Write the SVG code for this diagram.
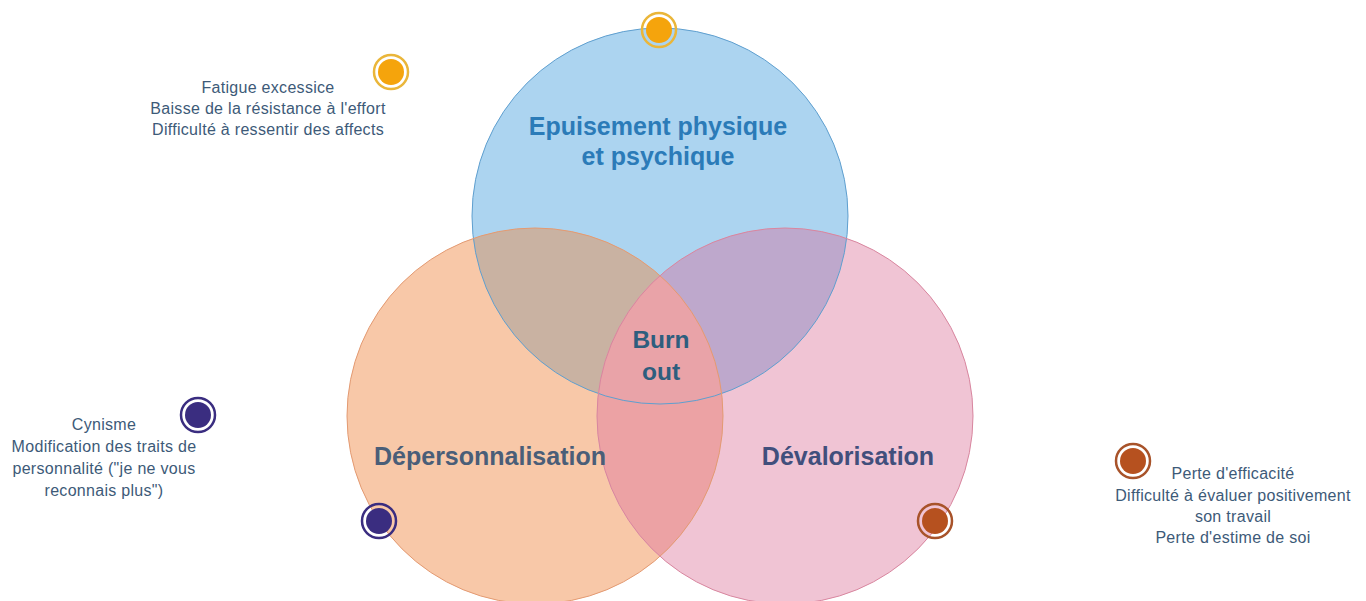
<svg xmlns="http://www.w3.org/2000/svg" width="1366" height="601" viewBox="0 0 1366 601">
<style>
.main{font-family:"Liberation Sans",Arial,sans-serif;font-weight:bold;font-size:25px;text-anchor:middle}
.note{font-family:"Liberation Sans",Arial,sans-serif;font-size:16px;letter-spacing:0.3px;fill:#3d5a78;text-anchor:middle}
.dotring{fill:none;stroke-width:2.5}
</style>
<defs>
<clipPath id="cA"><circle cx="660" cy="216" r="188"/></clipPath>
<clipPath id="cB"><circle cx="535" cy="416" r="188"/></clipPath>
<clipPath id="cC"><circle cx="785" cy="416" r="188"/></clipPath>
</defs>
<rect width="1366" height="601" fill="#ffffff"/>
<g id="circles">
<circle id="epuisement" cx="660" cy="216" r="188" fill="#acd4f0"/>
<circle id="depersonnalisation" cx="535" cy="416" r="188" fill="#f8c8a8"/>
<circle id="devalorisation" cx="785" cy="416" r="188" fill="#f0c4d4"/>
<g clip-path="url(#cA)"><circle cx="535" cy="416" r="188" fill="#c9b2a2"/></g>
<g clip-path="url(#cA)"><circle cx="785" cy="416" r="188" fill="#bea8cc"/></g>
<g clip-path="url(#cB)"><circle cx="785" cy="416" r="188" fill="#eca2a4"/></g>
<g clip-path="url(#cA)"><g clip-path="url(#cB)"><circle cx="785" cy="416" r="188" fill="#e9a3a8"/></g></g>
<circle cx="660" cy="216" r="188" fill="none" stroke="#5f9fcf" stroke-width="1"/>
<circle cx="535" cy="416" r="188" fill="none" stroke="#e39a72" stroke-width="1"/>
<circle cx="785" cy="416" r="188" fill="none" stroke="#d8869f" stroke-width="1"/>
</g>
<g id="labels">
<text class="main" x="658" y="135" fill="#2b7bb8">Epuisement physique</text>
<text class="main" x="658" y="165" fill="#2b7bb8">et psychique</text>
<text class="main" x="661" y="348" fill="#2e5e7e" style="font-size:24.5px">Burn</text>
<text class="main" x="661" y="380" fill="#2e5e7e" style="font-size:24.5px">out</text>
<text class="main" x="490" y="465" fill="#4a5e78">Dépersonnalisation</text>
<text class="main" x="848" y="465" fill="#414f7c">Dévalorisation</text>
</g>
<g id="dots">
<g id="dot-top"><circle cx="659" cy="30" r="13" fill="#f5a40c"/><circle class="dotring" cx="659" cy="30" r="17" stroke="#eab63a"/></g>
<g id="dot-fatigue"><circle cx="391" cy="72" r="13" fill="#f5a40c"/><circle class="dotring" cx="391" cy="72" r="17" stroke="#eab63a"/></g>
<g id="dot-cyn"><circle cx="198" cy="415" r="13" fill="#3a2d80"/><circle class="dotring" cx="198" cy="415" r="17" stroke="#3a2d80"/></g>
<g id="dot-dep"><circle cx="379" cy="521" r="13" fill="#3a2d80"/><circle class="dotring" cx="379" cy="521" r="17" stroke="#3a2d80"/></g>
<g id="dot-perte"><circle cx="1133" cy="461" r="13" fill="#b6511f"/><circle class="dotring" cx="1133" cy="461" r="17" stroke="#a8532a"/></g>
<g id="dot-dev"><circle cx="935" cy="521" r="13" fill="#b6511f"/><circle class="dotring" cx="935" cy="521" r="17" stroke="#a8532a"/></g>
</g>
<g id="notes">
<g id="note-fatigue">
<text class="note" x="268" y="93">Fatigue excessice</text>
<text class="note" x="268" y="114">Baisse de la résistance à l'effort</text>
<text class="note" x="268" y="135">Difficulté à ressentir des affects</text>
</g>
<g id="note-cyn">
<text class="note" x="104" y="430">Cynisme</text>
<text class="note" x="104" y="452">Modification des traits de</text>
<text class="note" x="104" y="474">personnalité ("je ne vous</text>
<text class="note" x="104" y="496">reconnais plus")</text>
</g>
<g id="note-perte">
<text class="note" x="1233" y="479">Perte d'efficacité</text>
<text class="note" x="1233" y="501">Difficulté à évaluer positivement</text>
<text class="note" x="1233" y="522">son travail</text>
<text class="note" x="1233" y="543">Perte d'estime de soi</text>
</g>
</g>
</svg>
